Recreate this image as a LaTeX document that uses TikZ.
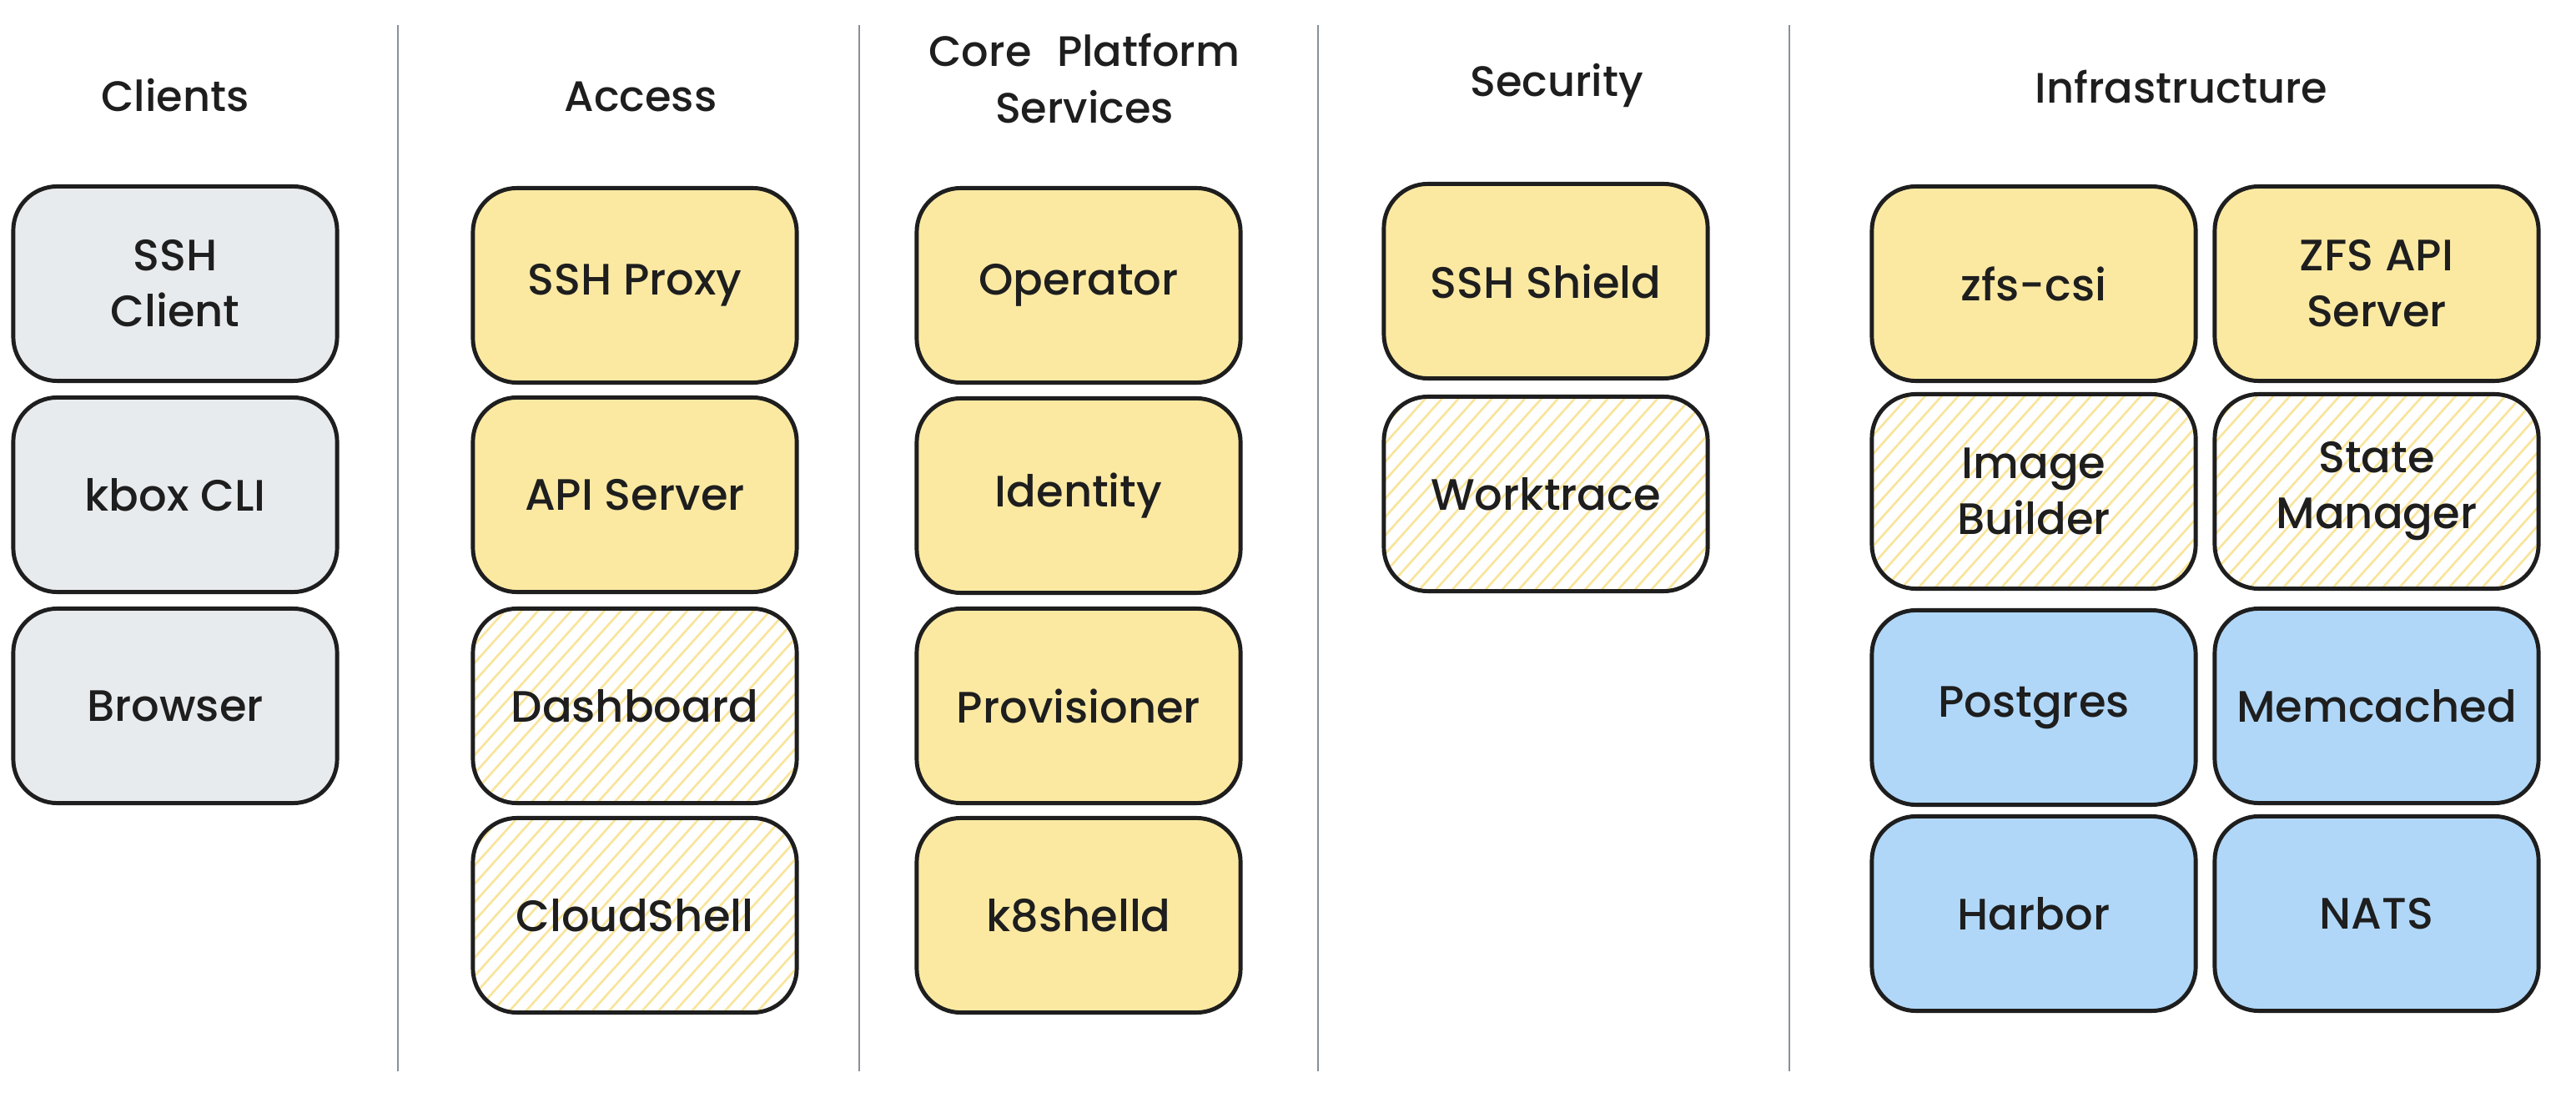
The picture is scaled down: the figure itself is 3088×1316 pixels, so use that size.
\documentclass[tikz,border=0pt]{standalone}
\usepackage{fontspec}
\setmainfont{Poppins}[UprightFont=* Medium]
\usetikzlibrary{patterns.meta}
\definecolor{strokec}{HTML}{1E1E1E}
\definecolor{grayfill}{HTML}{E8EBEE}
\definecolor{yellowfill}{HTML}{FBE9A2}
\definecolor{bluefill}{HTML}{B0D7F8}
\definecolor{hatchc}{HTML}{F9E49A}
\definecolor{divc}{HTML}{8A9098}
\tikzset{
  box/.style={draw=strokec, line width=1.4pt, rounded corners=15pt,
    minimum width=3.88cm, minimum height=2.33cm, align=center,
    font=\fontsize{15}{19}\selectfont, text=strokec},
  graybox/.style={box, fill=grayfill},
  yellowbox/.style={box, fill=yellowfill},
  bluebox/.style={box, fill=bluefill},
  hatchbox/.style={box, pattern={Lines[angle=48,distance=4.2pt,line width=0.75pt]}, pattern color=hatchc},
  header/.style={align=center, font=\fontsize{14.5}{19.5}\selectfont, text=strokec},
  divider/.style={draw=divc, line width=0.7pt}
}
\begin{document}
\begin{tikzpicture}[x=0.01cm, y=-0.01cm]
\useasboundingbox (0,0) rectangle (3088,1316);
\fill[white] (0,0) rectangle (3088,1316);
% dividers
\foreach \xx [count=\i] in {477,1030,1580,2145} {
  \coordinate (dt\i) at (\xx,30);
  \coordinate (db\i) at (\xx,1284);
  \draw[divider] (dt\i) -- (db\i);
}
% headers
\node[header] (hclients) at (210,114) {Clients};
\node[header] (haccess) at (768,116) {Access};
\node[header] (hcore) at (1300,94) {Core\hspace{0.6em}Platform\\Services};
\node[header] (hsec) at (1866,102) {Security};
\node[header] (hinfra) at (2615,104) {Infrastructure};
% clients
\node[graybox] (sshclient) at (210,340) {SSH\\Client};
\node[graybox] (kbox) at (210,593) {kbox CLI};
\node[graybox] (browser) at (210,846) {Browser};
% access
\node[yellowbox] (sshproxy) at (761,342) {SSH Proxy};
\node[yellowbox] (apiserver) at (761,593) {API Server};
\node[hatchbox] (dashboard) at (761,846) {Dashboard};
\node[hatchbox] (cloudshell) at (761,1097) {CloudShell};
% core
\node[yellowbox] (operator) at (1293,342) {Operator};
\node[yellowbox] (identity) at (1293,594) {Identity};
\node[yellowbox] (provisioner) at (1293,846) {Provisioner};
\node[yellowbox] (kshelld) at (1293,1097) {k8shelld};
% security
\node[yellowbox] (sshshield) at (1853,337) {SSH Shield};
\node[hatchbox] (worktrace) at (1853,592) {Worktrace};
% infrastructure
\node[yellowbox] (zfscsi) at (2438,340) {zfs-csi};
\node[yellowbox] (zfsapi) at (2849,340) {ZFS API\\Server};
\node[hatchbox] (imgbuilder) at (2438,589) {Image\\Builder};
\node[hatchbox] (statemgr) at (2849,589) {State\\Manager};
\node[bluebox] (postgres) at (2438,848) {Postgres};
\node[bluebox] (memcached) at (2849,846) {Memcached};
\node[bluebox] (harbor) at (2438,1095) {Harbor};
\node[bluebox] (nats) at (2849,1095) {NATS};
\end{tikzpicture}
\end{document}
